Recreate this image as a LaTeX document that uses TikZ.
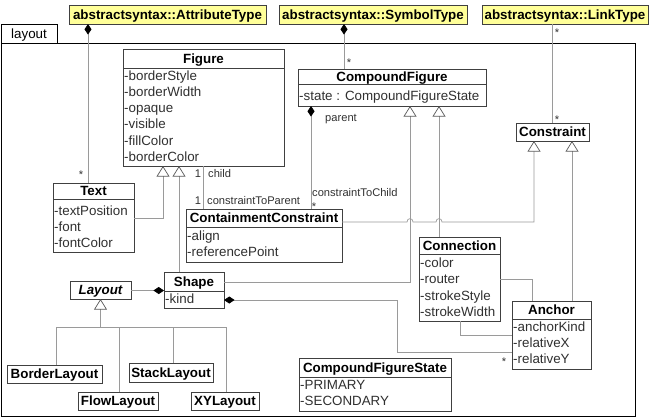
\documentclass[tikz,border=0pt]{standalone}
\usepackage{fontspec}
\setmainfont{Liberation Sans}
\usetikzlibrary{arrows.meta}
\definecolor{boxline}{HTML}{404040}
\definecolor{linkline}{HTML}{9A9A9A}
\definecolor{noteyellow}{HTML}{FFFF99}
\definecolor{attrtext}{HTML}{303030}

\begin{document}
\begin{tikzpicture}[x=0.03cm, y=-0.03cm,
    every node/.style={font=\fontsize{11.4}{13}\selectfont},
    cls/.style={draw=boxline, line width=0.8pt, fill=white, inner sep=0pt, outer sep=0pt, anchor=north west,
      text height=8.2pt, text depth=0pt, font=\fontsize{11.4}{13}\selectfont\bfseries},
    stereo/.style={cls, fill=noteyellow},
    ttl/.style={inner sep=0pt, text height=8.2pt, text depth=0pt, font=\fontsize{11.4}{13}\selectfont\bfseries},
    attr/.style={inner sep=0pt, anchor=west, text height=7.5pt, text depth=0pt, text=attrtext},
    lbl/.style={inner sep=0pt, text height=6.5pt, text depth=0pt, text=attrtext, font=\fontsize{9.5}{11}\selectfont},
    link/.style={draw=linkline, line width=0.6pt},
    gen/.style={link, -{Triangle[open, length=9pt, width=11pt, color=black!65]}},
    comp/.style={link, {Diamond[length=9pt, width=6pt, color=black]}-}
  ]
  \useasboundingbox (0,0) rectangle (651,418);

  % package frame
  \node[draw=black, line width=0.8pt, minimum width=19.02cm, minimum height=11.19cm, inner sep=0pt, outer sep=0pt, anchor=north west] (pkgbody) at (1,43) {};
  \node[draw=black, line width=0.8pt, minimum width=1.68cm, minimum height=0.57cm, inner sep=0pt, outer sep=0pt, anchor=north west,
    text height=8.2pt, text depth=0pt] (pkgtab) at (1,24) {layout};

  % stereotype boxes on top
  \node[stereo, minimum width=5.91cm, minimum height=0.57cm] (attrType) at (69,5) {abstractsyntax::AttributeType};
  \node[stereo, minimum width=5.64cm, minimum height=0.57cm] (symType) at (279,5) {abstractsyntax::SymbolType};
  \node[stereo, minimum width=4.98cm, minimum height=0.57cm] (linkType) at (482,5) {abstractsyntax::LinkType};

  % class boxes (empty frames, titles and attributes below)
  \node[cls, minimum width=4.83cm, minimum height=3.51cm] (figure) at (123,49) {};
  \node[cls, minimum width=5.64cm, minimum height=1.11cm] (compound) at (298,69) {};
  \node[cls, minimum width=2.19cm, minimum height=0.54cm] (constraint) at (516,123) {Constraint};
  \node[cls, minimum width=2.43cm, minimum height=2.07cm] (text) at (53,183) {};
  \node[cls, minimum width=4.68cm, minimum height=1.59cm] (contain) at (186,209) {};
  \node[cls, minimum width=1.80cm, minimum height=1.08cm] (shape) at (164,272) {};
  \node[cls, minimum width=1.83cm, minimum height=0.54cm, font=\fontsize{11.4}{13}\selectfont\bfseries\itshape] (layoutc) at (70,281) {Layout};
  \node[cls, minimum width=2.85cm, minimum height=0.54cm] (border) at (7,365) {BorderLayout};
  \node[cls, minimum width=2.52cm, minimum height=0.57cm] (stack) at (129,363) {StackLayout};
  \node[cls, minimum width=2.40cm, minimum height=0.54cm] (flow) at (78,392) {FlowLayout};
  \node[cls, minimum width=2.04cm, minimum height=0.54cm] (xy) at (191,392) {XYLayout};
  \node[cls, minimum width=2.43cm, minimum height=2.52cm] (connection) at (419,237) {};
  \node[cls, minimum width=2.37cm, minimum height=2.04cm] (anchor) at (512,301) {};
  \node[cls, minimum width=4.56cm, minimum height=1.59cm] (cfstate) at (299,358) {};

  % compartment lines
  \draw[boxline, line width=0.8pt] (figure.west |- 0,68) -- (figure.east |- 0,68);
  \draw[boxline, line width=0.8pt] (compound.west |- 0,84) -- (compound.east |- 0,84);
  \draw[boxline, line width=0.8pt] (text.west |- 0,199) -- (text.east |- 0,199);
  \draw[boxline, line width=0.8pt] (contain.west |- 0,227) -- (contain.east |- 0,227);
  \draw[boxline, line width=0.8pt] (shape.west |- 0,291) -- (shape.east |- 0,291);
  \draw[boxline, line width=0.8pt] (connection.west |- 0,254) -- (connection.east |- 0,254);
  \draw[boxline, line width=0.8pt] (anchor.west |- 0,319) -- (anchor.east |- 0,319);
  \draw[boxline, line width=0.8pt] (cfstate.west |- 0,377) -- (cfstate.east |- 0,377);

  % titles
  \node[ttl] (figure-t) at (figure.north |- 0,58.5) {Figure};
  \node[ttl] (compound-t) at (compound.north |- 0,76.5) {CompoundFigure};
  \node[ttl] (text-t) at (text.north |- 0,191) {Text};
  \node[ttl] (contain-t) at (contain.north |- 0,218) {ContainmentConstraint};
  \node[ttl] (shape-t) at (shape.north |- 0,281.5) {Shape};
  \node[ttl] (connection-t) at (connection.north |- 0,245.5) {Connection};
  \node[ttl] (anchor-t) at (anchor.north |- 0,310) {Anchor};
  \node[ttl] (cfstate-t) at (cfstate.north |- 0,367.5) {CompoundFigureState};

  % attributes
  \foreach \a [count=\i from 0] in {borderStyle,borderWidth,opaque,visible,fillColor,borderColor}
    \node[attr] (figure-a\i) at (124,{76+16.2*\i}) {-\a};
  \node[attr] (compound-a0) at (299,96.5) {-state : CompoundFigureState};
  \foreach \a [count=\i from 0] in {textPosition,font,fontColor}
    \node[attr] (text-a\i) at (54,{211+16*\i}) {-\a};
  \foreach \a [count=\i from 0] in {align,referencePoint}
    \node[attr] (contain-a\i) at (187,{236+16*\i}) {-\a};
  \node[attr] (shape-a0) at (165,299.5) {-kind};
  \foreach \a [count=\i from 0] in {color,router,strokeStyle,strokeWidth}
    \node[attr] (connection-a\i) at (420,{263+16.3*\i}) {-\a};
  \foreach \a [count=\i from 0] in {anchorKind,relativeX,relativeY}
    \node[attr] (anchor-a\i) at (513,{327+16*\i}) {-\a};
  \foreach \a [count=\i from 0] in {PRIMARY,SECONDARY}
    \node[attr] (cfstate-a\i) at (300,{385+16*\i}) {-\a};

  % compositions from the abstract syntax
  \draw[comp] (attrType.south -| 88,0) -- (text.north -| 88,0);
  \draw[comp] (symType.south -| 344,0) -- (compound.north -| 344,0);
  \draw[link] (linkType.south -| 552,0) -- (constraint.north -| 552,0);
  \node[lbl] (m1) at (81,174.5) {*};
  \node[lbl] (m2) at (349,62.5) {*};
  \node[lbl] (m3) at (557,32.5) {*};
  \node[lbl] (m4) at (557,119.5) {*};

  % generalizations
  \draw[gen] (text.east |- 0,218) -| (figure.south -| 163,0);
  \draw[gen] (shape.north -| 179,0) -- (figure.south -| 179,0);
  \draw[gen] (shape.east |- 0,282) -| (compound.south -| 410,0);
  \draw[gen] (connection.north -| 439,0) -- (compound.south -| 439,0);
  \draw[gen] (contain.east |- 0,222) -- (407,222) .. controls (407,217.5) and (413,217.5) .. (413,222)
    -- (436,222) .. controls (436,217.5) and (442,217.5) .. (442,222) -| (constraint.south -| 534,0);
  \draw[gen] (anchor.north -| 572,0) -- (constraint.south -| 572,0);

  % layout kinds
  \draw[link] (border.north -| 56,0) |- (layoutc.south |- 0,327);
  \draw[link] (flow.north -| 119,0) |- (layoutc.south |- 0,327);
  \draw[link] (stack.north -| 173,0) |- (layoutc.south |- 0,327);
  \draw[link] (xy.north -| 226,0) |- (layoutc.south |- 0,327);
  \draw[gen] (layoutc.south |- 0,327) -- (layoutc.south);

  % associations
  \draw[link] (figure.south -| 203,0) -- (contain.north -| 203,0);
  \node[lbl] (c1) at (198,174) {1};
  \node[lbl, anchor=west] (c2) at (208,174) {child};
  \node[lbl] (c3) at (198,201) {1};
  \node[lbl, anchor=west] (c4) at (207,201) {constraintToParent};
  \draw[comp] (compound.south -| 311,0) -- (contain.north -| 311,0);
  \node[lbl, anchor=west] (p1) at (325,118) {parent};
  \node[lbl, anchor=west] (p2) at (312,193) {constraintToChild};
  \node[lbl] (p3) at (314,206.5) {*};
  \draw[comp] (shape.west |- 0,290.5) -- (layoutc.east |- 0,290.5);
  \draw[comp] (shape.east |- 0,300) -- (397,300) |- (anchor.west |- 0,352);
  \node[lbl] (a1) at (504,361.5) {*};
  \draw[link] (connection.east |- 0,279) -| (anchor.north -| 532,0);
  \draw[link] (connection.south -| 460,0) |- (anchor.west |- 0,335);
\end{tikzpicture}
\end{document}
